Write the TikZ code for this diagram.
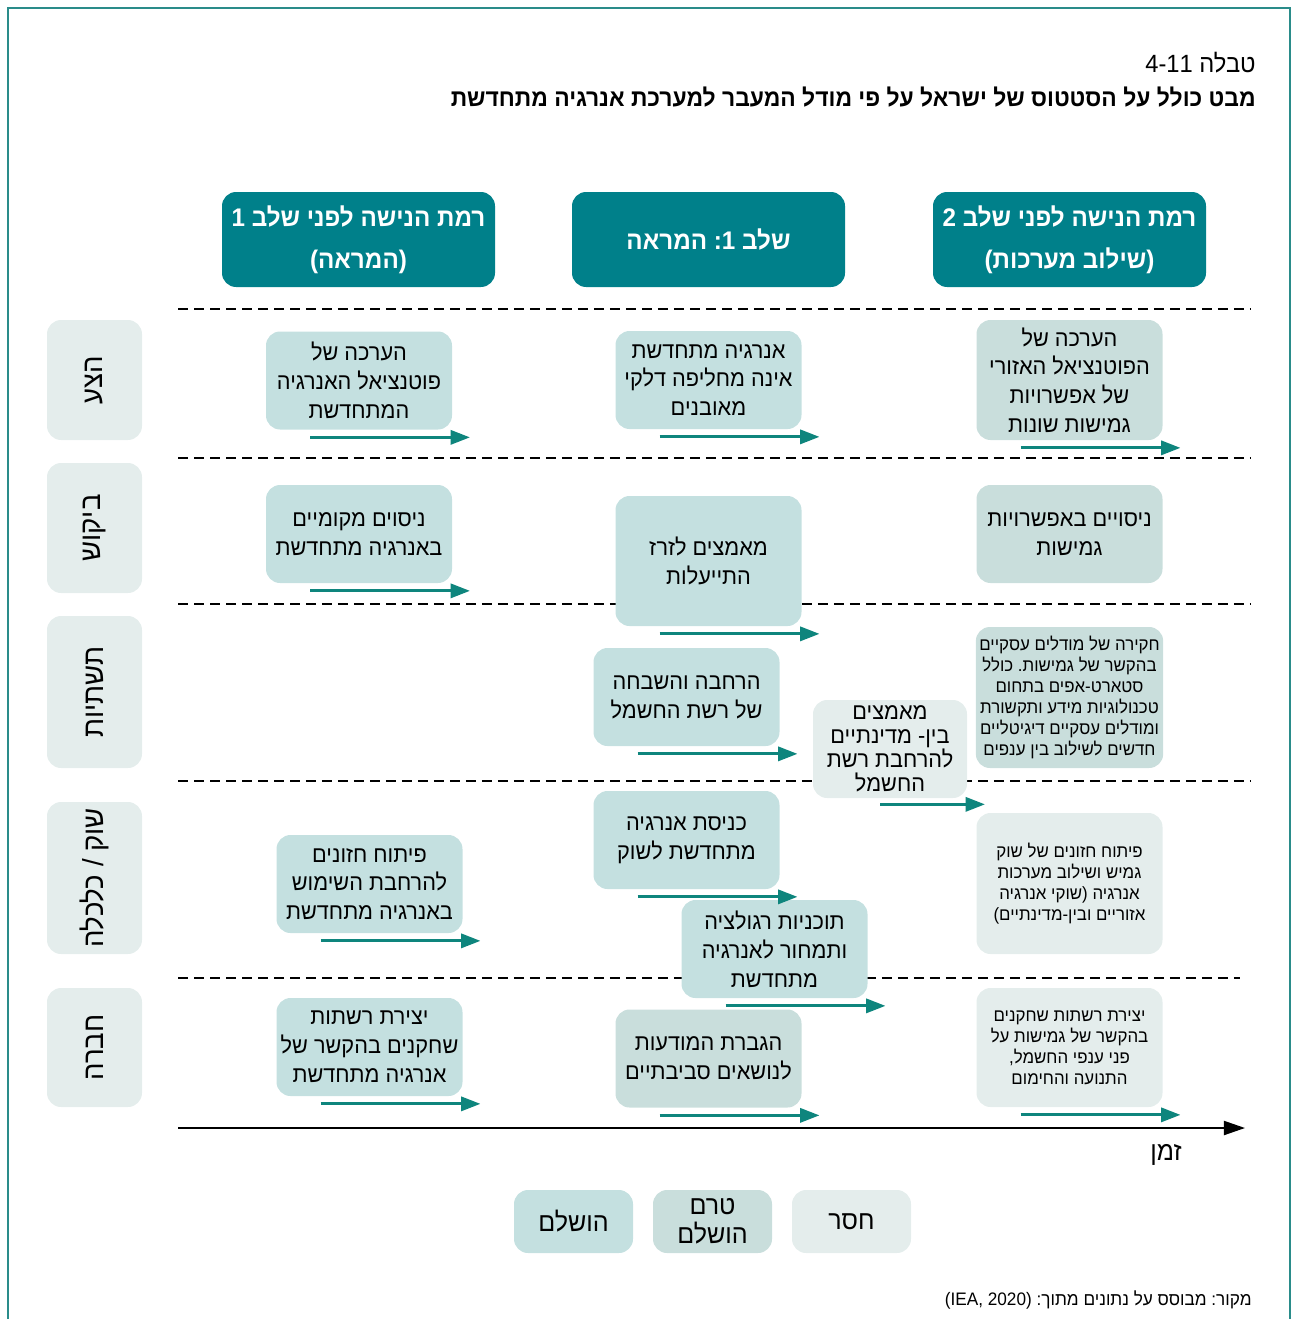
\documentclass[tikz,border=0pt]{standalone}
\usepackage{fontspec}
\setmainfont[Script=Hebrew, FakeStretch=0.95]{Liberation Sans}
\newfontfamily\latinfont[FakeStretch=0.95]{Liberation Sans}
\TeXXeTstate=1
\frenchspacing
\usetikzlibrary{arrows.meta}

\definecolor{hdrclr}{RGB}{0,128,138}
\definecolor{doneclr}{RGB}{196,224,224}
\definecolor{pendclr}{RGB}{201,222,220}
\definecolor{missclr}{RGB}{228,237,236}
\definecolor{arrowclr}{RGB}{14,133,125}
\definecolor{frameclr}{RGB}{42,140,138}

% one right-to-left line
\newcommand{\hebline}[1]{\beginR #1\endR}

\begin{document}
\begin{tikzpicture}[
    box/.style = {rounded corners=8pt, align=center, minimum width=3.72cm,
                  minimum height=1.96cm, inner sep=2pt,
                  font=\fontsize{13}{16.4}\selectfont},
    done/.style = {box, fill=doneclr},
    pend/.style = {box, fill=pendclr},
    miss/.style = {box, fill=missclr},
    smalltext/.style = {font=\fontsize{10.1}{11.9}\selectfont},
    hdr/.style = {fill=hdrclr, rounded corners=8pt, align=center, text=white,
                  minimum width=5.46cm, minimum height=1.9cm,
                  font=\fontsize{14.5}{23.8}\selectfont\bfseries},
    rowlbl/.style = {fill=missclr, rounded corners=8pt, rotate=90,
                     minimum height=1.9cm, font=\fontsize{16.5}{18}\selectfont},
    legbox/.style = {rounded corners=8pt, align=center, minimum width=2.38cm,
                     minimum height=1.26cm, font=\fontsize{15}{16.4}\selectfont},
    sep/.style = {line width=1.1pt, dash pattern=on 0.2cm off 0.12cm},
    prog/.style = {draw=arrowclr, line width=1.7pt,
                   -{Triangle[length=11pt,width=8pt]}},
    timeax/.style = {line width=1.1pt, -{Triangle[length=12pt,width=8pt]}},
  ]
    \useasboundingbox (0,0) rectangle (25.86,-26.38);
    \draw[frameclr, line width=0.9pt] (0.16,-26.5) -- (0.16,-0.16)
                                      -- (25.8,-0.16) -- (25.8,-26.5);

    % caption
    \node[anchor=east, inner sep=0, font=\fontsize{14.2}{16}\selectfont] (tabno)
        at (25.12,-1.26) {\hebline{טבלה \beginL 4-11\endL{}}};
    \node[anchor=east, inner sep=0, font=\fontsize{13.7}{16}\selectfont\bfseries] (title)
        at (25.12,-1.94) {\hebline{מבט כולל על הסטטוס של ישראל על פי מודל המעבר למערכת אנרגיה מתחדשת}};

    % column heads
    \node[hdr] (headA) at (7.17,-4.79)  {\hebline{רמת הנישה לפני שלב 1}\\\hebline{(המראה)}};
    \node[hdr] (headB) at (14.17,-4.79) {\hebline{שלב 1: המראה}};
    \node[hdr] (headC) at (21.39,-4.79) {\hebline{רמת הנישה לפני שלב 2}\\\hebline{(שילוב מערכות)}};

    % row separators
    \draw[sep] (3.56,-6.18)  -- (25.0,-6.18);
    \draw[sep] (3.56,-9.16)  -- (25.0,-9.16);
    \draw[sep] (3.56,-12.08) -- (25.0,-12.08);
    \draw[sep] (3.56,-15.62) -- (25.0,-15.62);
    \draw[sep] (3.56,-19.56) -- (24.8,-19.56);

    % row labels
    \node[rowlbl, minimum width=2.4cm]  (rowSup) at (1.89,-7.60)  {\hebline{הצע}};
    \node[rowlbl, minimum width=2.6cm]  (rowDem) at (1.89,-10.56) {\hebline{ביקוש}};
    \node[rowlbl, minimum width=3.04cm] (rowInf) at (1.89,-13.84) {\hebline{תשתיות}};
    \node[rowlbl, minimum width=3.04cm] (rowMkt) at (1.89,-17.56) {\hebline{שוק / כלכלה}};
    \node[rowlbl, minimum width=2.38cm] (rowSoc) at (1.89,-20.95) {\hebline{חברה}};

    % supply
    \node[done] (supA) at (7.18,-7.61)  {\hebline{הערכה של}\\\hebline{פוטנציאל האנרגיה}\\\hebline{המתחדשת}};
    \node[done] (supB) at (14.17,-7.60) {\hebline{אנרגיה מתחדשת}\\\hebline{אינה מחליפה דלקי}\\\hebline{מאובנים}};
    \node[pend, minimum height=2.4cm] (supC) at (21.39,-7.60)
        {\hebline{הערכה של}\\\hebline{הפוטנציאל האזורי}\\\hebline{של אפשרויות}\\\hebline{גמישות שונות}};

    % demand
    \node[done] (demA) at (7.18,-10.68) {\hebline{ניסוים מקומיים}\\\hebline{באנרגיה מתחדשת}};
    \node[done, minimum height=2.6cm] (demB) at (14.17,-11.22) {\hebline{מאמצים לזרז}\\\hebline{התייעלות}};
    \node[pend] (demC) at (21.39,-10.68) {\hebline{ניסויים באפשרויות}\\\hebline{גמישות}};

    % infrastructure
    \node[done] (infB) at (13.73,-13.94) {\hebline{הרחבה והשבחה}\\\hebline{של רשת החשמל}};
    \node[miss, minimum width=3.08cm, font=\fontsize{13}{13.6}\selectfont] (infX) at (17.80,-14.98)
        {\hebline{מאמצים}\\\hebline{בין- מדינתיים}\\\hebline{להרחבת רשת}\\\hebline{החשמל}};
    \node[pend, smalltext, minimum height=2.82cm] (infC) at (21.39,-13.95)
        {\hebline{חקירה של מודלים עסקיים}\\\hebline{בהקשר של גמישות. כולל}\\\hebline{סטארט-אפים בתחום}\\\hebline{טכנולוגיות מידע ותקשורת}\\\hebline{ומודלים עסקיים דיגיטליים}\\\hebline{חדשים לשילוב בין ענפים}};

    % market / economy
    \node[done] (mktA) at (7.39,-17.68)  {\hebline{פיתוח חזונים}\\\hebline{להרחבת השימוש}\\\hebline{באנרגיה מתחדשת}};
    \node[done] (mktB) at (13.73,-16.80) {\hebline{כניסת אנרגיה}\\\hebline{מתחדשת לשוק}};
    \node[done] (mktR) at (15.49,-18.98) {\hebline{תוכניות רגולציה}\\\hebline{ותמחור לאנרגיה}\\\hebline{מתחדשת}};
    \node[miss, smalltext, minimum height=2.82cm] (mktC) at (21.39,-17.67)
        {\hebline{פיתוח חזונים של שוק}\\\hebline{גמיש ושילוב מערכות}\\\hebline{אנרגיה (שוקי אנרגיה}\\\hebline{אזוריים ובין-מדינתיים)}};

    % society
    \node[done] (socA) at (7.39,-20.94)  {\hebline{יצירת רשתות}\\\hebline{שחקנים בהקשר של}\\\hebline{אנרגיה מתחדשת}};
    \node[pend] (socB) at (14.17,-21.17) {\hebline{הגברת המודעות}\\\hebline{לנושאים סביבתיים}};
    \node[miss, smalltext, minimum height=2.38cm] (socC) at (21.39,-20.95)
        {\hebline{יצירת רשתות שחקנים}\\\hebline{בהקשר של גמישות על}\\\hebline{פני ענפי החשמל,}\\\hebline{התנועה והחימום}};

    % progress arrows under the boxes
    \foreach \n in {supA,supB,supC,demA,demB,infB,mktA,mktB,mktR,socA,socB,socC}
      \draw[prog] ([xshift=-0.98cm,yshift=-0.15cm]\n.south) -- ++(3.2,0);
    \draw[prog] ([xshift=-0.2cm,yshift=-0.12cm]infX.south) -- ++(2.1,0);

    % time axis
    \coordinate (t0) at (3.56,-22.56);
    \coordinate (t1) at (24.9,-22.56);
    \draw[timeax] (t0) -- (t1);
    \node[font=\fontsize{15}{16}\selectfont] (timelbl) at (23.32,-23.1) {\hebline{זמן}};

    % legend
    \node[legbox, fill=doneclr] (lgDone) at (11.47,-24.43) {\hebline{הושלם}};
    \node[legbox, fill=pendclr] (lgPend) at (14.25,-24.43) {\hebline{טרם}\\\hebline{הושלם}};
    \node[legbox, fill=missclr] (lgMiss) at (17.03,-24.43) {\hebline{חסר}};

    \node[anchor=east, inner sep=0, font=\fontsize{10.3}{12}\selectfont] (src)
        at (25.04,-26.0) {\hebline{מקור: מבוסס על נתונים מתוך: \beginL{\latinfont(IEA, 2020)}\endL{}}};
\end{tikzpicture}
\end{document}
